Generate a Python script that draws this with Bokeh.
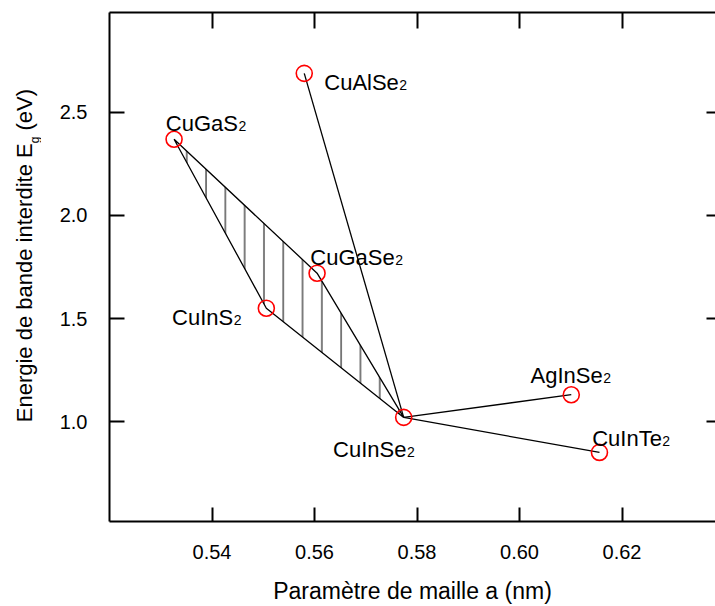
import math
from bokeh.plotting import figure
from bokeh.layouts import row
from bokeh.models import Range1d, LinearAxis, Label, FixedTicker
from bokeh.core.properties import value
from bokeh.embed import file_html
from bokeh.resources import INLINE

# ---- data ----
compounds = ["CuGaS", "CuAlSe", "CuGaSe", "CuInS", "CuInSe", "AgInSe", "CuInTe"]
subscripts = ["2", "2", "2", "2", "2", "2", "2"]
lattice_a = [0.5326, 0.5580, 0.5605, 0.5506, 0.5774, 0.6101, 0.6156]   # nm
band_gap = [2.37, 2.69, 1.72, 1.55, 1.02, 1.13, 0.85]                  # eV

# hatched alloy region: CuGaS2 -> CuGaSe2 -> CuInSe2 -> CuInS2
region_members = ["CuGaS", "CuGaSe", "CuInSe", "CuInS"]
# tie lines to CuInSe2
tie_lines = [("CuAlSe", "CuInSe"), ("CuInSe", "AgInSe"), ("CuInSe", "CuInTe")]

x_ticks = [0.54, 0.56, 0.58, 0.60, 0.62]
x_tick_labels = ["0.54", "0.56", "0.58", "0.60", "0.62"]
y_ticks = [1.0, 1.5, 2.0, 2.5]
y_tick_labels = ["1.0", "1.5", "2.0", "2.5"]

x_title = "Paramètre de maille a (nm)"
y_title_parts = ["Energie de bande interdite E", "g", "(eV)"]

# ---- layout / style ----
FONT = "Liberation Sans"
LABEL_PX = 22
SUB_PX = 14
TOTAL_W, TOTAL_H = 715, 606
TITLE_W = 41          # width of the strip holding the rotated y title
FRAME_LEFT = 109      # page x of the left axis
FRAME_TOP, FRAME_BOTTOM = 12, 521
# label offsets (screen px) from each point to the label's left/baseline
label_offsets = {
    "CuGaS": (-8.3, 16.0),
    "CuAlSe": (20.0, -9.0),
    "CuGaSe": (-6.7, 16.0),
    "CuInS": (-94.3, -9.0),
    "CuInSe": (-70.6, -31.7),
    "AgInSe": (-40.7, 19.3),
    "CuInTe": (-7.3, 14.4),
}

ARIAL_W = {"C": .722, "u": .556, "G": .778, "a": .556, "S": .667, "A": .667,
           "l": .222, "e": .556, "I": .278, "n": .556, "g": .556, "T": .611,
           "E": .667, "r": .333, "i": .222, "d": .556, "b": .556, "t": .278,
           " ": .278, "(": .333, ")": .333, "V": .667}
KERN = {"Te": -0.111}


def text_w(s, px):
    w = sum(ARIAL_W.get(c, .556) for c in s)
    w += sum(KERN.get(s[i:i + 2], 0) for i in range(len(s) - 1))
    return w * px


idx = {c: i for i, c in enumerate(compounds)}

# ---------------- strip with the rotated y-axis title ----------------
# its frame is aligned with the main frame by the row layout, so the
# y range is set so that data y == (TOTAL_H - page y)
t = figure(width=TITLE_W, height=TOTAL_H,
           x_range=Range1d(0, TITLE_W),
           y_range=Range1d(TOTAL_H - FRAME_BOTTOM, TOTAL_H - FRAME_TOP),
           output_backend="svg", toolbar_location=None,
           x_axis_location=None, y_axis_location=None,
           min_border=0, min_border_left=0, min_border_right=0,
           min_border_top=FRAME_TOP, min_border_bottom=TOTAL_H - FRAME_BOTTOM)
t.outline_line_color = None
t.grid.visible = False
t.background_fill_color = "white"
t.border_fill_color = "white"

# the title runs upward from page y = 421.7; centres are used for anchoring
title_start = TOTAL_H - 421.7
w_main = text_w(y_title_parts[0], 22)
w_sub = text_w(y_title_parts[1], 12)
w_unit = text_w(y_title_parts[2], 22)
gap = text_w(" ", 22)
cx_main = 24.0
cx_sub = 34.0
t.text(x=[cx_main], y=[title_start + w_main / 2], text=[y_title_parts[0]],
       angle=math.pi / 2, text_font=value(FONT), text_font_size="22px",
       text_color="black", text_align="center", text_baseline="middle")
t.text(x=[cx_sub], y=[title_start + w_main + w_sub / 2], text=[y_title_parts[1]],
       angle=math.pi / 2, text_font=value(FONT), text_font_size="12px",
       text_color="black", text_align="center", text_baseline="middle")
t.text(x=[cx_main], y=[title_start + w_main + w_sub + gap + w_unit / 2],
       text=[y_title_parts[2]],
       angle=math.pi / 2, text_font=value(FONT), text_font_size="22px",
       text_color="black", text_align="center", text_baseline="middle")

# ---------------- main chart ----------------
p = figure(width=TOTAL_W - TITLE_W, height=TOTAL_H,
           x_range=Range1d(0.52, 0.63824), y_range=Range1d(0.5146, 2.9854),
           output_backend="svg", toolbar_location=None,
           min_border_left=FRAME_LEFT - TITLE_W, min_border_right=0,
           min_border_top=FRAME_TOP, min_border_bottom=TOTAL_H - FRAME_BOTTOM)
p.outline_line_color = None
p.grid.visible = False
p.background_fill_color = "white"
p.border_fill_color = "white"


def style_axis(ax, ticks, labels, tick_in):
    ax.ticker = FixedTicker(ticks=ticks)
    ax.major_label_overrides = {tk: lb for tk, lb in zip(ticks, labels)}
    ax.axis_line_width = 2
    ax.axis_line_color = "black"
    ax.major_tick_in = tick_in
    ax.major_tick_out = 0
    ax.major_tick_line_width = 2
    ax.major_tick_line_color = "black"
    ax.minor_tick_line_color = None
    ax.major_label_text_font = FONT
    ax.major_label_text_font_size = "20px"
    ax.major_label_text_color = "black"


style_axis(p.xaxis[0], x_ticks, x_tick_labels, 14)
style_axis(p.yaxis[0], y_ticks, y_tick_labels, 15)
p.xaxis[0].major_label_standoff = 23
p.yaxis[0].major_label_standoff = 22
p.xaxis[0].axis_label = x_title
p.xaxis[0].axis_label_text_font = FONT
p.xaxis[0].axis_label_text_font_size = "23px"
p.xaxis[0].axis_label_text_font_style = "normal"
p.xaxis[0].axis_label_text_color = "black"
p.xaxis[0].axis_label_standoff = 16

top = LinearAxis()
style_axis(top, x_ticks, ["" for _ in x_ticks], 16)
top.major_label_text_font_size = "0px"
top.major_label_standoff = 0
p.add_layout(top, "above")

right = LinearAxis()
style_axis(right, y_ticks, ["" for _ in y_ticks], 9)
right.axis_line_color = None
right.major_label_text_font_size = "0px"
right.major_label_standoff = 0
p.add_layout(right, "right")

# hatched region
rx = [lattice_a[idx[c]] for c in region_members]
ry = [band_gap[idx[c]] for c in region_members]
p.patch(rx, ry, fill_color=None, line_color="black", line_width=1.3,
        hatch_pattern="vertical_line", hatch_scale=19.3, hatch_weight=1,
        hatch_color="black")

# tie lines
xs = [[lattice_a[idx[a]], lattice_a[idx[b]]] for a, b in tie_lines]
ys = [[band_gap[idx[a]], band_gap[idx[b]]] for a, b in tie_lines]
p.multi_line(xs, ys, line_color="black", line_width=1.3)

# points
p.scatter(lattice_a, band_gap, marker="circle", size=16, fill_color=None,
          line_color="red", line_width=1.6)

# compound labels with subscripts
for c, s, a, e in zip(compounds, subscripts, lattice_a, band_gap):
    dx, dy = label_offsets[c]
    p.add_layout(Label(x=a, y=e, x_offset=dx, y_offset=dy, text=c,
                       text_font=FONT, text_font_size=f"{LABEL_PX}px",
                       text_align="left", text_baseline="alphabetic",
                       text_color="black"))
    p.add_layout(Label(x=a, y=e, x_offset=dx + text_w(c, LABEL_PX) + 0.5,
                       y_offset=dy - 2.5, text=s,
                       text_font=FONT, text_font_size=f"{SUB_PX}px",
                       text_align="left", text_baseline="alphabetic",
                       text_color="black"))

layout = row(t, p, spacing=0)
open("out.html", "w").write(file_html(layout, INLINE))
